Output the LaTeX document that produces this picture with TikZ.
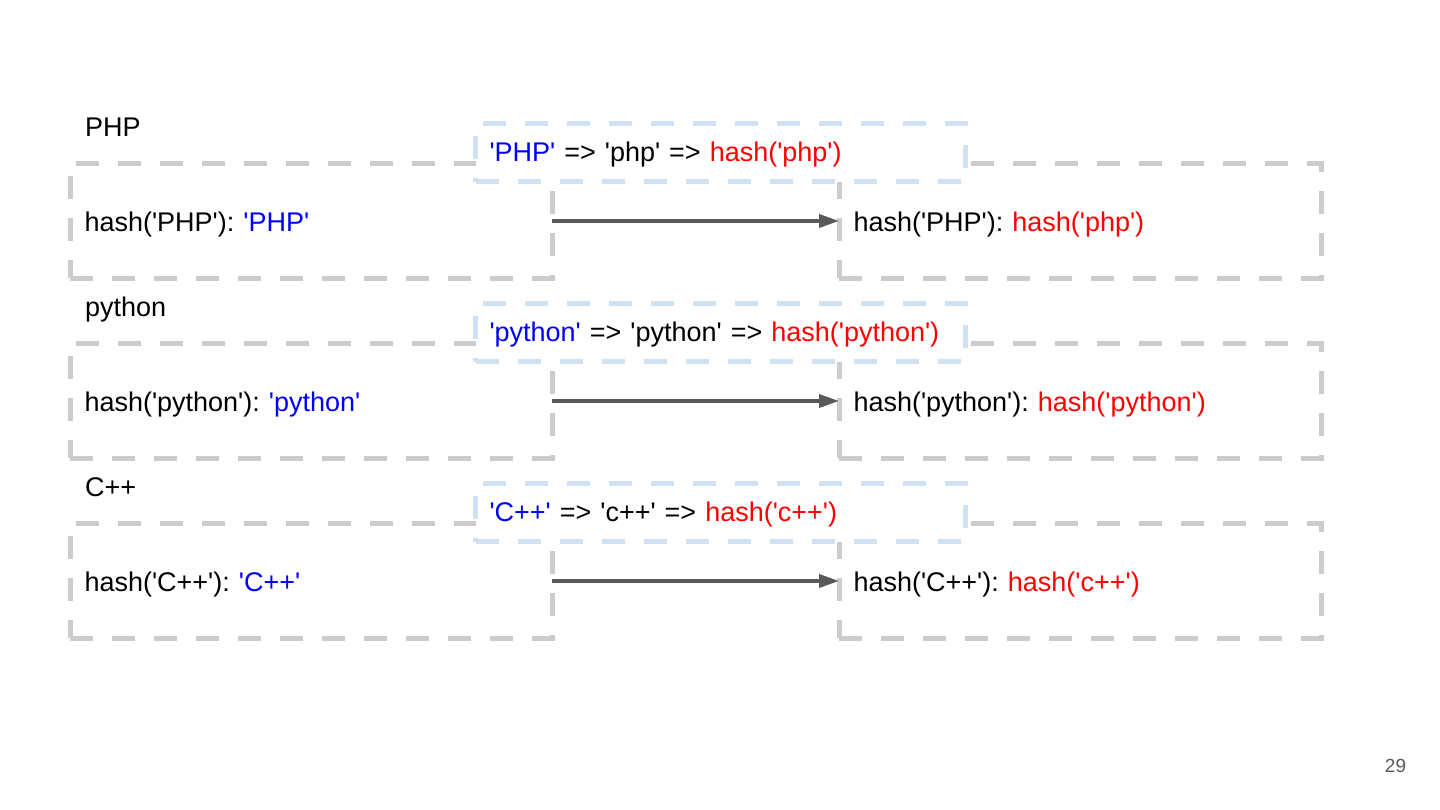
\documentclass[tikz,border=0pt]{standalone}
\usepackage{fontspec}
\setmainfont{Liberation Sans}[Ligatures=TeXOff]
\usetikzlibrary{calc,arrows.meta}
\definecolor{boxgrey}{HTML}{CCCCCC}
\definecolor{boxblue}{HTML}{CFE2F3}
\definecolor{keyblue}{HTML}{0000FF}
\definecolor{hashred}{HTML}{FF0000}
\definecolor{linkgrey}{HTML}{595959}
\newcommand{\kb}[1]{\textcolor{keyblue}{#1}}
\newcommand{\hr}[1]{\textcolor{hashred}{#1}}
\tikzset{
	greybox/.style={draw=boxgrey,line width=5pt,dash pattern=on 23pt off 19pt,minimum width=482pt,minimum height=115pt,inner xsep=14.5pt,outer sep=0pt,text width=453pt,align=left,text height=26pt,text depth=4.6pt},
	bluebox/.style={draw=boxblue,fill=white,line width=5pt,dash pattern=on 23pt off 19pt,minimum width=490pt,minimum height=58pt,inner xsep=14pt,outer sep=0pt,text width=462pt,align=left,text height=22pt,text depth=4.6pt},
	linkarrow/.style={draw=linkgrey,line width=3.5pt,-{Triangle[length=20pt,width=13pt]}}
}
\newcommand{\makerow}[6]{
	\coordinate (#1) at (0,#2);
	\node (L#1) at ($(#1) + (311,0)$) [greybox] {#4};
	\node (R#1) at ($(#1) + (1080,0)$) [greybox] {#6};
	\draw[linkarrow] (L#1.east) -- (R#1.west);
	\node (M#1) at ($(#1) + (720.5,68)$) [bluebox] {#5};
	\node (T#1) at ($(#1) + (85,84.5)$) [anchor=base west,inner sep=0pt] {#3};
}

\begin{document}
\frenchspacing
\begin{tikzpicture}[x=1pt,y=1pt,font=\fontsize{27pt}{32pt}\selectfont]
	\useasboundingbox[fill=white] (0,0) rectangle (1440,810);
	\makerow{php}{589}{PHP}{hash('PHP'): \kb{'PHP'}}{\kb{'PHP'} => 'php' => \hr{hash('php')}}{hash('PHP'): \hr{hash('php')}}
	\makerow{python}{409}{python}{hash('python'): \kb{'python'}}{\kb{'python'} => 'python' => \hr{hash('python')}}{hash('python'): \hr{hash('python')}}
	\makerow{cpp}{229}{C++}{hash('C++'): \kb{'C++'}}{\kb{'C++'} => 'c++' => \hr{hash('c++')}}{hash('C++'): \hr{hash('c++')}}
	\node (page) at (1395.5,37.7) [anchor=base,inner sep=0pt,text=linkgrey,font=\fontsize{19pt}{23pt}\selectfont] {29};
\end{tikzpicture}
\end{document}
